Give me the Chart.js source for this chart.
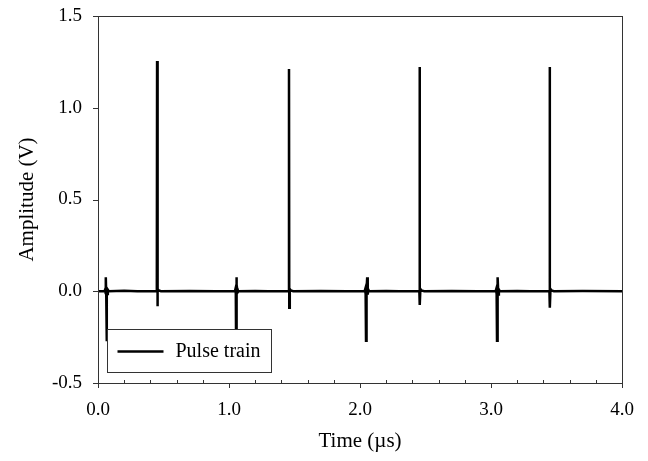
<!DOCTYPE html>
<html>
<head>
<meta charset="utf-8">
<title>Pulse train</title>
<script src="https://cdn.jsdelivr.net/npm/chart.js@4/dist/chart.umd.min.js"></script>
<style>
  html, body { margin: 0; padding: 0; background: #fff; }
  #wrap { width: 648px; height: 461px; position: relative; }
</style>
</head>
<body>
<div id="wrap"><canvas id="myChart"></canvas></div>
<script>
// Pulse train: time in microseconds, amplitude in volts
const timeUs = [
  0.000, 0.050, 0.055, 0.058, 0.061, 0.063, 0.066, 0.068, 0.071, 0.075, 0.082, 0.200, 0.300,
  0.449, 0.451, 0.453, 0.457, 0.465, 0.480, 0.700, 0.900,
  1.045, 1.049, 1.052, 1.054, 1.057, 1.059, 1.062, 1.066, 1.072, 1.200, 1.300,
  1.456, 1.458, 1.460, 1.464, 1.472, 1.490, 1.700, 1.900,
  2.035, 2.039, 2.043, 2.046, 2.050, 2.055, 2.059, 2.063, 2.070, 2.200, 2.300,
  2.453, 2.455, 2.457, 2.461, 2.469, 2.490, 2.700, 2.900,
  3.035, 3.039, 3.043, 3.046, 3.049, 3.052, 3.056, 3.060, 3.068, 3.200, 3.300,
  3.446, 3.448, 3.450, 3.454, 3.462, 3.480, 3.700, 4.000
];
const amplitudeV = [
  0.000, 0.000, 0.010, -0.015, 0.076, -0.020, -0.273, 0.020, -0.015, 0.008, 0.000, 0.003, 0.000,
  0.000, 1.255, -0.082, 0.012, 0.004, 0.000, 0.002, 0.000,
  0.000, 0.012, -0.015, -0.270, 0.076, -0.018, 0.015, -0.006, 0.000, 0.002, 0.000,
  0.000, 1.211, -0.090, 0.012, 0.004, 0.000, 0.002, 0.000,
  0.000, 0.010, -0.015, -0.270, 0.012, 0.076, -0.018, 0.010, 0.000, 0.002, 0.000,
  0.000, 1.222, -0.075, 0.012, 0.004, 0.000, 0.002, 0.000,
  0.000, 0.010, -0.015, -0.270, 0.012, 0.076, -0.018, 0.010, 0.000, 0.002, 0.000,
  0.000, 1.222, -0.090, 0.012, 0.004, 0.000, 0.002, 0.000
];
const seriesLabel = 'Pulse train';
const xTitle = 'Time (\u00b5s)';
const yTitle = 'Amplitude (V)';
const xRange = [0, 4];      // axis limits and label steps
const yRange = [-0.5, 1.5];
const xMajorStep = 1, xMinorStep = 0.2, yMajorStep = 0.5;

const points = timeUs.map((t, i) => ({ x: t, y: amplitudeV[i] }));
const FONT = "'Liberation Serif', 'Times New Roman', serif";
const AXIS_COLOR = '#333';

/* box around the plot + the small tick marks (minor ticks point inward) */
const frameAndTicks = {
  id: 'frameAndTicks',
  afterDraw(chart) {
    const ctx = chart.ctx;
    const a = chart.chartArea;
    const xs = chart.scales.x, ys = chart.scales.y;
    ctx.save();
    ctx.strokeStyle = AXIS_COLOR;
    ctx.lineWidth = 1;
    ctx.strokeRect(Math.round(a.left) + 0.5, Math.round(a.top) + 0.5,
                   Math.round(a.right - a.left), Math.round(a.bottom - a.top));
    ctx.beginPath();
    const nMinor = Math.round((xRange[1] - xRange[0]) / xMinorStep);
    for (let i = 0; i <= nMinor; i++) {
      const v = xRange[0] + i * xMinorStep;
      const px = Math.round(xs.getPixelForValue(v)) + 0.5;
      const isMajor = Math.abs(v / xMajorStep - Math.round(v / xMajorStep)) < 1e-6;
      if (isMajor) {
        ctx.moveTo(px, a.bottom);
        ctx.lineTo(px, a.bottom + 5);
      } else {
        ctx.moveTo(px, a.bottom);
        ctx.lineTo(px, a.bottom - 3);
      }
    }
    const nY = Math.round((yRange[1] - yRange[0]) / yMajorStep);
    for (let i = 0; i <= nY; i++) {
      const py = Math.round(ys.getPixelForValue(yRange[0] + i * yMajorStep)) + 0.5;
      ctx.moveTo(a.left - 5, py);
      ctx.lineTo(a.left, py);
    }
    ctx.stroke();
    ctx.restore();
  }
};

/* boxed legend sitting in the lower left of the plot, drawn over the trace */
const boxLegend = {
  id: 'boxLegend',
  afterDatasetsDraw(chart) {
    const ctx = chart.ctx;
    const a = chart.chartArea;
    const ds = chart.data.datasets[0];
    const x0 = Math.round(a.left) + 9.5, y0 = Math.round(a.bottom) - 53.5;
    const w = 164, h = 43;
    ctx.save();
    ctx.fillStyle = '#fff';
    ctx.fillRect(x0, y0, w, h);
    ctx.strokeStyle = AXIS_COLOR;
    ctx.lineWidth = 1;
    ctx.strokeRect(x0, y0, w, h);
    ctx.strokeStyle = ds.borderColor;
    ctx.lineWidth = 2.5;
    ctx.beginPath();
    ctx.moveTo(x0 + 10, y0 + 22);
    ctx.lineTo(x0 + 56, y0 + 22);
    ctx.stroke();
    ctx.fillStyle = '#000';
    ctx.font = '20px ' + FONT;
    ctx.textBaseline = 'middle';
    ctx.fillText(ds.label, x0 + 68, y0 + 22);
    ctx.restore();
  }
};

document.addEventListener('DOMContentLoaded', () => {
  const ctx = document.getElementById('myChart').getContext('2d');
  new Chart(ctx, {
    type: 'line',
    data: {
      datasets: [{
        label: seriesLabel,
        data: points,
        borderColor: '#000',
        borderWidth: 2.5,
        pointRadius: 0,
        tension: 0,
        fill: false
      }]
    },
    options: {
      responsive: true,
      maintainAspectRatio: false,
      animation: false,
      layout: { padding: { left: 0, top: 16, right: 26, bottom: 0 } },
      plugins: { legend: { display: false }, tooltip: { enabled: false } },
      scales: {
        x: {
          type: 'linear',
          min: xRange[0], max: xRange[1],
          afterFit: s => { s.height = 78; },
          // invisible chart.js ticks only space the labels; real marks come from the plugin
          grid: { display: true, drawOnChartArea: false, drawTicks: true, tickLength: 16, tickColor: 'transparent' },
          border: { display: true, color: AXIS_COLOR, width: 1 },
          ticks: {
            stepSize: xMajorStep,
            padding: 0,
            color: '#000',
            font: { family: FONT, size: 19 },
            callback: v => Number(v).toFixed(1)
          },
          title: {
            display: true, text: xTitle, color: '#000',
            font: { family: FONT, size: 21 },
            padding: { top: 0, bottom: 7 }
          }
        },
        y: {
          min: yRange[0], max: yRange[1],
          afterFit: s => { s.width = 98; },
          grid: { display: true, drawOnChartArea: false, drawTicks: true, tickLength: 16, tickColor: 'transparent' },
          border: { display: true, color: AXIS_COLOR, width: 1 },
          ticks: {
            stepSize: yMajorStep,
            padding: 0,
            color: '#000',
            font: { family: FONT, size: 19 },
            callback: v => Number(v).toFixed(1)
          },
          title: {
            display: true, text: yTitle, color: '#000',
            font: { family: FONT, size: 21 },
            padding: { top: 15, bottom: 0 }
          }
        }
      }
    },
    plugins: [frameAndTicks, boxLegend]
  });
});
</script>
</body>
</html>
